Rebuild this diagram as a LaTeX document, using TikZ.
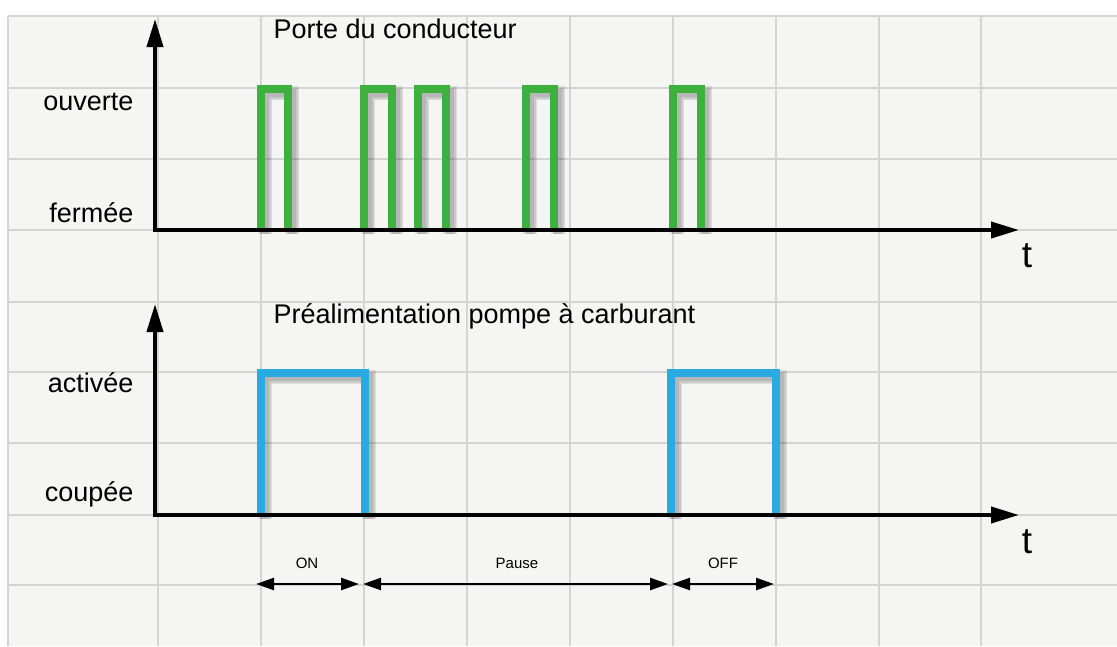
\documentclass[tikz,border=0pt]{standalone}
\usepackage{fontspec}
\setmainfont{Liberation Sans}
\usetikzlibrary{arrows.meta}

\definecolor{paper}{RGB}{245,245,243}
\definecolor{gridgray}{RGB}{212,212,210}
\definecolor{doorgreen}{RGB}{62,176,62}
\definecolor{pumpblue}{RGB}{41,170,225}

\tikzset{
  gridline/.style={draw=gridgray, line width=2pt},
  axisline/.style={line width=4pt, -{Triangle[length=28pt,width=16pt]}},
  spanline/.style={line width=2.5pt, {Triangle[length=18pt,width=12pt]}-{Triangle[length=18pt,width=12pt]}},
  statelbl/.style={anchor=base east, font=\fontsize{27}{30}\selectfont},
  sigtitle/.style={anchor=base west, font=\fontsize{27}{30}\selectfont},
  tlbl/.style={anchor=base, font=\fontsize{37}{40}\selectfont},
  spanlbl/.style={anchor=base, font=\fontsize{15}{17}\selectfont},
  pulse/.style={line width=8pt, miter limit=10},
  pulseshadow/.style={draw=black, line width=#1, opacity=0.09, shift={(4,4)}}
}

\begin{document}
\begin{tikzpicture}[x=1pt, y=-1pt]
  \useasboundingbox (0,0) rectangle (1117,646);
  \fill[white] (0,0) rectangle (1117,646);

  % grid paper
  \fill[paper] (8,16) rectangle (1117,646);
  \foreach \x in {8,158,261,364,467,570,673,776,879,981}
    \draw[gridline] (\x,16) -- (\x,646);
  \foreach \y in {16,88,159,230,302,372,443,515,585}
    \draw[gridline] (8,\y) -- (1117,\y);

  % door signal
  \foreach \w in {14pt,11pt,8pt}
    \foreach \a/\b in {261/288,364/392,418/446,526/554,673/701}
      \draw[pulseshadow=\w] (\a,230) -- (\a,89) -- (\b,89) -- (\b,230);
  \foreach \a/\b in {261/288,364/392,418/446,526/554,673/701}
    \draw[pulse, doorgreen] (\a,230) -- (\a,89) -- (\b,89) -- (\b,230);

  % pump signal
  \foreach \w in {14pt,11pt,8pt}
    \foreach \a/\b in {261/365,671/776}
      \draw[pulseshadow=\w] (\a,515) -- (\a,373) -- (\b,373) -- (\b,515);
  \foreach \a/\b in {261/365,671/776}
    \draw[pulse, pumpblue] (\a,515) -- (\a,373) -- (\b,373) -- (\b,515);

  % axes
  \coordinate (o1) at (155,230);
  \coordinate (y1) at (155,19);
  \coordinate (x1) at (1019,230);
  \coordinate (o2) at (155,515);
  \coordinate (y2) at (155,304);
  \coordinate (x2) at (1019,515);
  \draw[axisline] ([yshift=-2pt]o1) -- (y1);
  \draw[axisline] ([xshift=-2pt]o1) -- (x1);
  \draw[axisline] ([yshift=-2pt]o2) -- (y2);
  \draw[axisline] ([xshift=-2pt]o2) -- (x2);

  \node[tlbl] (t1) at (1027,267) {t};
  \node[tlbl] (t2) at (1027,553) {t};

  \node[sigtitle] (door) at (270,38) {Porte du conducteur};
  \node[statelbl] (open) at (137,110) {ouverte};
  \node[statelbl] (closed) at (137,222) {fermée};

  \node[sigtitle] (pump) at (270,323) {Préalimentation pompe à carburant};
  \node[statelbl] (on) at (137,392) {activée};
  \node[statelbl] (off) at (137,501) {coupée};

  % timing spans
  \coordinate (s0) at (256,584);
  \coordinate (s1) at (361,584);
  \coordinate (s2) at (670,584);
  \coordinate (s3) at (774,584);
  \draw[spanline] (s0) -- ([xshift=-2pt]s1);
  \draw[spanline] ([xshift=2pt]s1) -- ([xshift=-2pt]s2);
  \draw[spanline] ([xshift=2pt]s2) -- (s3);
  \node[spanlbl] (lon) at (307,568) {ON};
  \node[spanlbl] (lpause) at (517,568) {Pause};
  \node[spanlbl] (loff) at (723,568) {OFF};
\end{tikzpicture}
\end{document}
